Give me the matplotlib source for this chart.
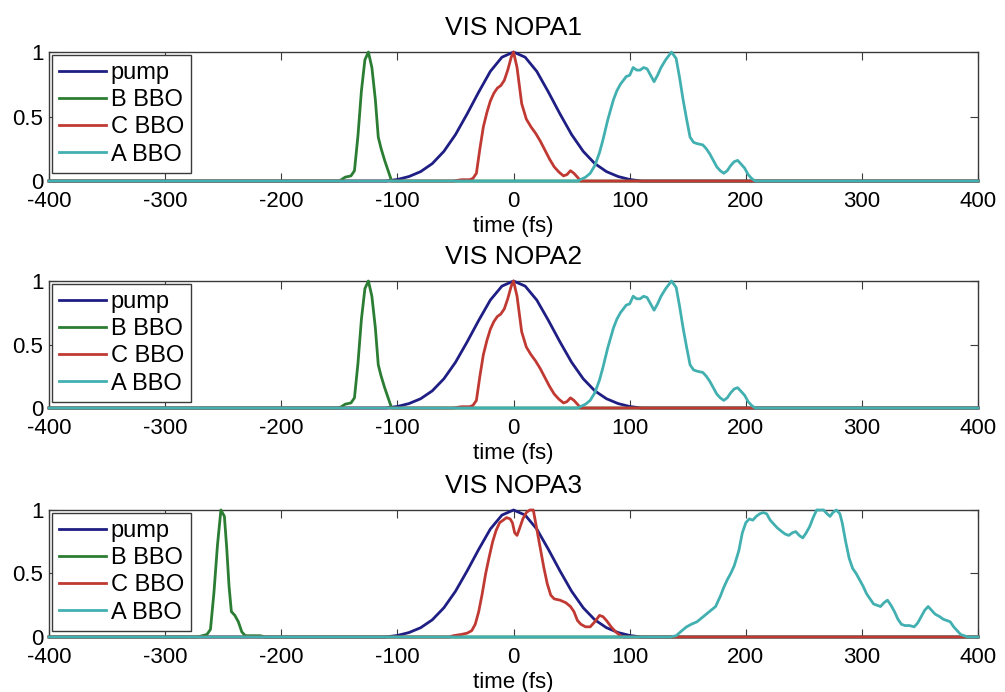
import matplotlib
matplotlib.use("Agg")
import matplotlib.pyplot as plt

plt.rcParams["font.family"] = ["Liberation Sans", "DejaVu Sans"]
plt.rcParams["axes.unicode_minus"] = False

# ---------- data ----------
series_names = ["pump", "B BBO", "C BBO", "A BBO"]
panel_titles = ["VIS NOPA1", "VIS NOPA2", "VIS NOPA3"]
x_ticks = [-400, -300, -200, -100, 0, 100, 200, 300, 400]
y_ticks = [0, 0.5, 1]

# pump is the same reference pulse in all three panels
pump_t = [-400, -110, -100, -90, -80, -70, -60, -50, -40, -30, -20, -10, 0,
          10, 20, 30, 40, 50, 60, 70, 80, 90, 100, 110, 400]
pump_y = [0, 0, 0.012, 0.035, 0.073, 0.135, 0.23, 0.36, 0.52, 0.69, 0.85, 0.96, 1.0,
          0.96, 0.85, 0.69, 0.52, 0.36, 0.23, 0.135, 0.073, 0.035, 0.012, 0, 0]

# NOPA1 / NOPA2 (the two panels show the same traces)
b12_t = [-400, -150, -145, -140, -137, -134, -131, -128, -125, -122, -119,
         -116.5, -114, -111, -108, -105, 400]
b12_y = [0, 0, 0.03, 0.04, 0.08, 0.35, 0.7, 0.94, 1.0, 0.88, 0.63,
         0.34, 0.25, 0.16, 0.08, 0, 0]

c12_t = [-400, -52, -45, -38, -35, -32, -29, -26, -23, -20, -17, -14, -11, -8, -5, -2, 0,
         3, 7, 11, 15, 19, 23, 27, 31, 35, 39, 43, 46, 49, 52, 55, 58, 400]
c12_y = [0, 0, 0.01, 0.01, 0.02, 0.06, 0.25, 0.42, 0.53, 0.62, 0.68, 0.72, 0.74, 0.78, 0.86, 0.96, 1.0,
         0.88, 0.6, 0.48, 0.42, 0.37, 0.31, 0.24, 0.17, 0.11, 0.07, 0.04, 0.05, 0.08, 0.06, 0.03, 0, 0]

a12_t = [-400, 55, 62, 66, 70, 74, 77, 81, 86, 89, 92, 97, 100, 103, 106, 109, 112, 115,
         118, 121, 124, 127, 131, 136, 140, 143, 146, 149, 152, 155, 158, 163, 166, 169,
         172, 175, 178, 181, 184, 187, 190, 193, 196, 199, 202, 205, 208, 400]
a12_y = [0, 0, 0.03, 0.06, 0.12, 0.22, 0.32, 0.47, 0.63, 0.7, 0.75, 0.81, 0.82, 0.88, 0.86, 0.86, 0.88, 0.87,
         0.82, 0.77, 0.82, 0.88, 0.94, 1.0, 0.95, 0.8, 0.63, 0.48, 0.34, 0.3, 0.29, 0.28, 0.25, 0.21,
         0.16, 0.11, 0.08, 0.06, 0.08, 0.12, 0.15, 0.16, 0.13, 0.1, 0.05, 0.02, 0, 0]

# NOPA3
b3_t = [-400, -272, -268, -264, -261, -258, -255, -252, -249, -247, -245, -243, -240,
        -237, -234, -231, -225, -218, -214, 400]
b3_y = [0, 0, 0.01, 0.02, 0.06, 0.35, 0.72, 1.0, 0.95, 0.7, 0.4, 0.2, 0.17,
        0.12, 0.04, 0.01, 0.01, 0.01, 0, 0]

c3_t = [-400, -55, -52, -45, -40, -36, -33, -30, -27, -24, -21, -18, -15, -12, -9, -6, -3, -1,
        1, 3, 5, 8, 11, 14, 17, 20, 23, 26, 29, 32, 35, 40, 45, 49, 52, 55, 58, 62,
        66, 70, 74, 77, 80, 84, 88, 92, 95, 400]
c3_y = [0, 0, 0.01, 0.02, 0.03, 0.05, 0.1, 0.2, 0.34, 0.5, 0.63, 0.75, 0.84, 0.9, 0.92, 0.94, 0.93, 0.9,
        0.82, 0.8, 0.85, 0.93, 0.98, 1.0, 1.0, 0.85, 0.7, 0.55, 0.42, 0.33, 0.3, 0.29, 0.27, 0.24, 0.2, 0.13, 0.1, 0.08,
        0.08, 0.12, 0.17, 0.16, 0.13, 0.08, 0.04, 0.01, 0, 0]

a3_t = [-400, 135, 140, 145, 149, 153, 158, 162, 166, 170, 174, 178, 181, 184, 187, 190, 194, 197,
        200, 203, 206, 209, 212, 215, 218, 221, 224, 227, 231, 234, 237, 240, 243, 246, 249,
        252, 255, 258, 261, 264, 267, 270, 272.5, 275, 278, 281, 283, 286, 289, 292, 295, 298,
        301, 304, 307, 310, 313, 316, 319, 322, 325, 328, 331, 334, 337, 341, 345, 348, 351,
        354, 357, 360, 363, 367, 370, 373, 376, 379, 382, 385, 388, 391, 400]
a3_y = [0, 0, 0.01, 0.05, 0.08, 0.1, 0.12, 0.15, 0.18, 0.21, 0.24, 0.32, 0.39, 0.45, 0.5, 0.56, 0.68, 0.82,
        0.9, 0.93, 0.92, 0.95, 0.97, 0.98, 0.97, 0.92, 0.89, 0.86, 0.83, 0.81, 0.8, 0.82, 0.83, 0.8, 0.78,
        0.82, 0.87, 0.94, 1.0, 1.0, 1.0, 0.97, 0.95, 0.98, 1.0, 0.97, 0.9, 0.75, 0.62, 0.54, 0.5, 0.45,
        0.4, 0.34, 0.3, 0.26, 0.25, 0.24, 0.27, 0.29, 0.25, 0.2, 0.14, 0.1, 0.09, 0.09, 0.08, 0.11, 0.16,
        0.21, 0.24, 0.21, 0.18, 0.16, 0.14, 0.13, 0.12, 0.08, 0.05, 0.02, 0.01, 0, 0]

panels = [
    [(pump_t, pump_y), (b12_t, b12_y), (c12_t, c12_y), (a12_t, a12_y)],
    [(pump_t, pump_y), (b12_t, b12_y), (c12_t, c12_y), (a12_t, a12_y)],
    [(pump_t, pump_y), (b3_t, b3_y), (c3_t, c3_y), (a3_t, a3_y)],
]

# ---------- style ----------
LINE_COLORS = ["#1e1e84", "#2b7d33", "#c03a33", "#42b0b0"]
EDGE = "#3a3a3a"
FS = 16

fig = plt.figure(figsize=(10.05, 6.92), dpi=100)
fig.patch.set_facecolor("white")

# axes boxes [left, bottom, width, height] in figure fractions
boxes = [
    [0.0488, 0.7384, 0.9244, 0.1864],
    [0.0488, 0.4104, 0.9244, 0.1835],
    [0.0488, 0.0795, 0.9244, 0.1835],
]

for box, title, traces in zip(boxes, panel_titles, panels):
    ax = fig.add_axes(box)
    for (t, y), name, col in zip(traces, series_names, LINE_COLORS):
        ax.plot(t, y, color=col, lw=2.0, label=name, clip_on=False, solid_joinstyle="round")

    ax.set_xlim(-400, 400)
    ax.set_ylim(0, 1)
    ax.set_xticks(x_ticks)
    ax.set_yticks(y_ticks)
    ax.set_yticklabels(["0", "0.5", "1"])
    ax.tick_params(direction="in", length=6, width=0.8, color=EDGE,
                   top=True, right=True, labelsize=FS)
    ax.tick_params(axis="x", pad=7)
    ax.tick_params(axis="y", pad=4)
    for sp in ax.spines.values():
        sp.set_color(EDGE)
        sp.set_linewidth(1.0)
        sp.set_zorder(1)

    ax.set_title(title, fontsize=19, pad=12)
    ax.set_xlabel("time (fs)", fontsize=FS, labelpad=3)

    leg = ax.legend(
        loc="upper left",
        fontsize=17,
        fancybox=False,
        framealpha=1,
        edgecolor=EDGE,
        borderaxespad=0.12,
        borderpad=0.3,
        handlelength=2.0,
        handletextpad=0.2,
        labelspacing=0.22,
    )
    leg.get_frame().set_linewidth(1.0)

fig.savefig("out.png", dpi=100)
